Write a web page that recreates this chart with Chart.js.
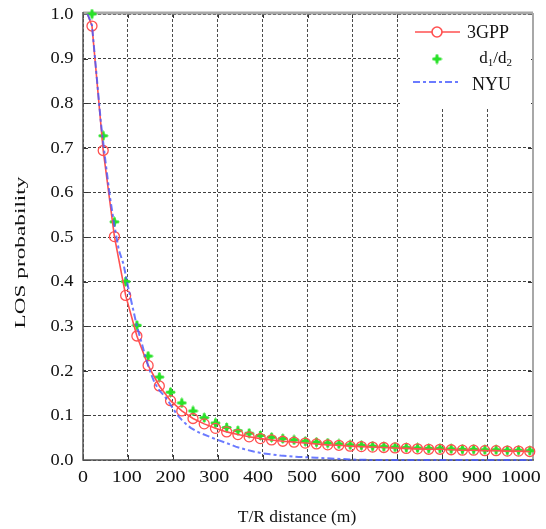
<!DOCTYPE html>
<html>
<head>
<meta charset="utf-8">
<title>LOS probability</title>
<script src="https://cdn.jsdelivr.net/npm/chart.js@4.4.1/dist/chart.umd.min.js"></script>
<style>
  html, body { margin: 0; padding: 0; background: #fff; }
  #wrap { width: 546px; height: 529px; }
</style>
</head>
<body>
<div id="wrap"><canvas id="losChart" width="546" height="529"></canvas></div>
<script>
// distances (m) where the 3GPP / d1/d2 markers sit
const markerDistance = [10, 20, 45, 70, 95, 120, 145, 170, 195, 220, 245, 270, 295, 320, 345, 370, 395,
  420, 445, 470, 495, 520, 545, 570, 595, 620, 645, 670, 695, 720, 745, 770, 795,
  820, 845, 870, 895, 920, 945, 970, 995];

const gppProb = [1.0, 0.973, 0.694, 0.501, 0.369, 0.278, 0.212, 0.166, 0.133, 0.110, 0.093, 0.081, 0.071,
  0.063, 0.057, 0.052, 0.048, 0.045, 0.042, 0.040, 0.038, 0.036, 0.034, 0.033, 0.031, 0.030, 0.029,
  0.028, 0.027, 0.026, 0.025, 0.024, 0.024, 0.023, 0.022, 0.022, 0.021, 0.021, 0.020, 0.020, 0.019];

const ratioProb = [null, 1.0, 0.727, 0.534, 0.400, 0.302, 0.233, 0.186, 0.152, 0.128, 0.110, 0.095, 0.083,
  0.073, 0.066, 0.060, 0.055, 0.051, 0.048, 0.045, 0.042, 0.040, 0.038, 0.036, 0.034, 0.033, 0.031,
  0.030, 0.029, 0.028, 0.027, 0.026, 0.026, 0.025, 0.024, 0.024, 0.023, 0.023, 0.022, 0.022, 0.021];

// NYU curve
const nyuDistance = [10, 20, 30, 40, 50, 60, 70, 80, 90, 100, 110, 120, 130, 140, 150, 160, 170, 180,
  190, 200, 210, 220, 230, 240, 250, 260, 280, 300, 320, 340, 360, 380, 400, 440, 480, 520, 560, 600,
  650, 700, 800, 900, 1000];
const nyuProb = [1.0, 0.975, 0.865, 0.755, 0.67, 0.59, 0.525, 0.47, 0.44, 0.39, 0.345, 0.30, 0.265,
  0.228, 0.197, 0.172, 0.156, 0.145, 0.132, 0.116, 0.101, 0.090, 0.080, 0.072, 0.066, 0.061, 0.053,
  0.045, 0.038, 0.030, 0.024, 0.019, 0.015, 0.010, 0.007, 0.005, 0.003, 0.001, 0.0, 0.0, 0.0, 0.0, 0.0];

const xTicks = [0, 100, 200, 300, 400, 500, 600, 700, 800, 900, 1000];
const yTicks = [0.0, 0.1, 0.2, 0.3, 0.4, 0.5, 0.6, 0.7, 0.8, 0.9, 1.0];

const serif = "'Liberation Serif', 'Times New Roman', serif";
const red = 'rgb(255, 80, 80)';
const green = 'rgb(40, 225, 40)';
const blue = 'rgba(70, 90, 255, 0.8)';

// filled four-point star for the d1/d2 markers
function starMarker(size, color) {
  const c = document.createElement('canvas');
  c.width = size; c.height = size;
  const g = c.getContext('2d');
  const m = size / 2, k = size * 0.17;
  g.fillStyle = color;
  g.beginPath();
  g.moveTo(m, 0);
  g.lineTo(m + k, m - k);
  g.lineTo(size, m);
  g.lineTo(m + k, m + k);
  g.lineTo(m, size);
  g.lineTo(m - k, m + k);
  g.lineTo(0, m);
  g.lineTo(m - k, m - k);
  g.closePath();
  g.fill();
  g.fillRect(m - 1.2, 1, 2.4, size - 2);
  g.fillRect(1, m - 1.2, size - 2, 2.4);
  return c;
}
const star = starMarker(11, green);

const toXY = (xs, ys) => xs.map((x, i) => ({ x: x, y: ys[i] }));

// text with a horizontal stretch (the exported figure has wide glyphs)
function wideText(ctx, text, x, y, size, sx, align, angle) {
  ctx.save();
  ctx.translate(x, y);
  if (angle) ctx.rotate(angle);
  ctx.scale(sx, 1);
  ctx.font = size + 'px ' + serif;
  ctx.textAlign = align;
  ctx.textBaseline = 'middle';
  ctx.fillText(text, 0, 0);
  ctx.restore();
}

// axis frame, inward ticks, tick labels, axis titles
const framePlugin = {
  id: 'frame',
  beforeDatasetsDraw(chart) {
    const { ctx, chartArea: a, scales } = chart;
    ctx.save();
    ctx.setLineDash([]);
    ctx.strokeStyle = '#333';
    ctx.lineWidth = 1;
    xTicks.forEach(v => {
      const px = Math.round(scales.x.getPixelForValue(v)) + 0.5;
      ctx.beginPath(); ctx.moveTo(px, a.bottom); ctx.lineTo(px, a.bottom - 5); ctx.stroke();
      ctx.beginPath(); ctx.moveTo(px, a.top); ctx.lineTo(px, a.top + 4); ctx.stroke();
    });
    yTicks.forEach(v => {
      const py = Math.round(scales.y.getPixelForValue(v)) + 0.5;
      ctx.beginPath(); ctx.moveTo(a.left, py); ctx.lineTo(a.left + 5, py); ctx.stroke();
      ctx.beginPath(); ctx.moveTo(a.right, py); ctx.lineTo(a.right - 4, py); ctx.stroke();
    });
    ctx.strokeStyle = '#a8a8a8';
    ctx.lineWidth = 3;
    ctx.beginPath(); ctx.moveTo(a.left, a.top - 1); ctx.lineTo(a.right + 1, a.top - 1); ctx.stroke();
    ctx.lineWidth = 2;
    ctx.beginPath(); ctx.moveTo(a.right + 1, a.top - 1); ctx.lineTo(a.right + 1, a.bottom); ctx.stroke();
    ctx.strokeStyle = '#555';
    ctx.lineWidth = 1.5;
    ctx.beginPath(); ctx.moveTo(a.left, a.top - 2); ctx.lineTo(a.left, a.bottom); ctx.lineTo(a.right + 2, a.bottom); ctx.stroke();

    ctx.fillStyle = '#111';
    // x tick labels sit a little left of their grid lines, drifting with distance
    xTicks.forEach(v => {
      const px = scales.x.getPixelForValue(v * 0.975);
      wideText(ctx, String(v), px, 477.5, 16, 1.25, 'center');
    });
    yTicks.forEach(v => {
      const py = scales.y.getPixelForValue(v);
      wideText(ctx, v.toFixed(1), 73.5, py + 0.5, 16, 1.15, 'right');
    });

    wideText(ctx, 'T/R distance (m)', 297, 517, 17.5, 1.0, 'center');
    wideText(ctx, 'LOS probability', 21.5, 252.5, 15, 1.55, 'center', -Math.PI / 2);
    ctx.restore();
  }
};

// legend box in the upper right corner
const legendPlugin = {
  id: 'cornerLegend',
  afterDatasetsDraw(chart) {
    const { ctx, chartArea: a } = chart;
    const right = 511;
    ctx.save();
    ctx.fillStyle = '#fff';
    ctx.fillRect(400, a.top + 1, a.right - 400 - 1, 93);
    ctx.fillStyle = '#111';
    ctx.textBaseline = 'middle';

    // 3GPP
    ctx.strokeStyle = red;
    ctx.lineWidth = 1.6;
    ctx.beginPath(); ctx.moveTo(415, 32); ctx.lineTo(460, 32); ctx.stroke();
    ctx.beginPath(); ctx.arc(437, 32, 5, 0, Math.PI * 2); ctx.fillStyle = '#fff'; ctx.fill(); ctx.stroke();
    ctx.fillStyle = '#111';
    ctx.font = '18px ' + serif;
    ctx.textAlign = 'right';
    ctx.fillText('3GPP', right - 2, 33);

    // d1/d2 with subscripts
    ctx.drawImage(star, 437 - 5.5, 59 - 5.5);
    const big = '17px ' + serif, small = '11px ' + serif;
    const parts = [['d', big, 0], ['1', small, 4], ['/d', big, 0], ['2', small, 4]];
    let w = 0;
    parts.forEach(p => { ctx.font = p[1]; w += ctx.measureText(p[0]).width; });
    let x = right + 1 - w;
    ctx.textAlign = 'left';
    parts.forEach(p => {
      ctx.font = p[1];
      ctx.fillText(p[0], x, 59 + p[2]);
      x += ctx.measureText(p[0]).width;
    });

    // NYU
    ctx.strokeStyle = blue;
    ctx.lineWidth = 2;
    ctx.setLineDash([7, 3, 3, 3]);
    ctx.beginPath(); ctx.moveTo(413, 82); ctx.lineTo(460, 82); ctx.stroke();
    ctx.setLineDash([]);
    ctx.font = '18px ' + serif;
    ctx.textAlign = 'right';
    ctx.fillText('NYU', right, 85);
    ctx.restore();
  }
};

new Chart(document.getElementById('losChart'), {
  type: 'scatter',
  data: {
    datasets: [
      {
        label: 'NYU',
        data: toXY(nyuDistance, nyuProb),
        showLine: true,
        borderColor: blue,
        borderWidth: 2,
        borderDash: [7, 3, 3, 3],
        pointRadius: 0,
        tension: 0,
        clip: 8
      },
      {
        label: '3GPP',
        data: toXY(markerDistance, gppProb),
        showLine: true,
        borderColor: red,
        borderWidth: 1.6,
        backgroundColor: 'rgba(255,255,255,0)',
        pointStyle: 'circle',
        pointRadius: ctx => (ctx.dataIndex === 0 ? 0 : 5),
        pointBorderWidth: 1.3,
        pointBorderColor: red,
        clip: 8
      },
      {
        label: 'd1/d2',
        data: toXY(markerDistance, ratioProb),
        showLine: false,
        pointStyle: star,
        pointRadius: 5,
        clip: 8
      }
    ]
  },
  options: {
    responsive: false,
    animation: false,
    layout: { padding: { top: 14, right: 14, left: 0, bottom: 0 } },
    plugins: { legend: { display: false }, tooltip: { enabled: false } },
    scales: {
      x: {
        type: 'linear',
        min: 0,
        max: 1000,
        afterFit: s => { s.height = 69; s.paddingLeft = 0; s.paddingRight = 0; },
        afterBuildTicks: s => { s.ticks = xTicks.map(v => ({ value: v })); },
        ticks: { display: false },
        grid: { color: 'rgba(0,0,0,0.7)', lineWidth: 1, drawTicks: false },
        border: { display: false, dash: [3, 2] }
      },
      y: {
        type: 'linear',
        min: 0,
        max: 1,
        afterFit: s => { s.width = 83; s.paddingTop = 0; s.paddingBottom = 0; },
        afterBuildTicks: s => { s.ticks = yTicks.map(v => ({ value: v })); },
        ticks: { display: false },
        grid: { color: 'rgba(0,0,0,0.75)', lineWidth: 1, drawTicks: false },
        border: { display: false, dash: [3, 2] }
      }
    }
  },
  plugins: [framePlugin, legendPlugin]
});
</script>
</body>
</html>
